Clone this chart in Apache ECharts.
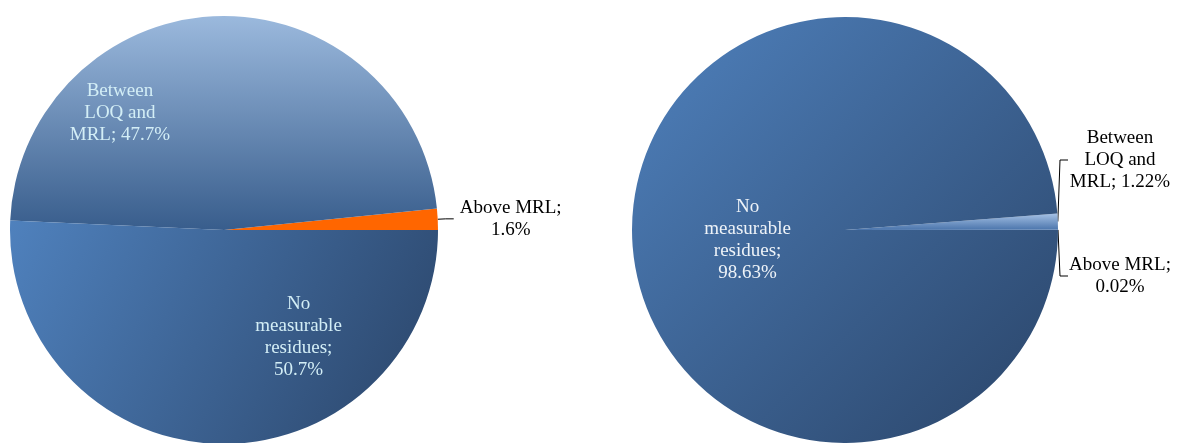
<!DOCTYPE html>
<html><head><meta charset="utf-8">
<script src="https://cdn.jsdelivr.net/npm/echarts@6/dist/echarts.min.js"></script>
<style>html,body{margin:0;padding:0;background:#fff}#c{width:1177px;height:443px}</style>
</head><body><div id="c"></div>
<script>
// ---- data ----
const categories = ['Above MRL', 'Between LOQ and MRL', 'No measurable residues'];
const labelPrefix = ['Above MRL;\n', 'Between\nLOQ and\nMRL; ', 'No\nmeasurable\nresidues;\n'];
const leftValues = [1.6, 47.7, 50.7];
const rightValues = [0.02, 1.22, 98.63];
const leftDecimals = 1;
const rightDecimals = 2;

// ---- styles ----
const FONT = '"Liberation Serif", "Times New Roman", serif';
const G = echarts.graphic.LinearGradient;
const noResidueFill = () => new G(0, 0, 1, 1, [{offset: 0, color: '#4f81bd'}, {offset: 1, color: '#2a4468'}]);
const betweenFill = () => new G(0, 0, 0, 1, [{offset: 0, color: '#9bb9dd'}, {offset: 1, color: '#385d8c'}]);
const betweenSmallFill = () => new G(0, 0, 0, 1, [{offset: 0, color: '#a6c2e6'}, {offset: 1, color: '#4a74ab'}]);

function outsideLabel() {
  return {
    show: true, position: 'outside', color: '#000', fontFamily: FONT, fontSize: 19, lineHeight: 22,
    formatter: p => p.data.text.split('\n').map(s => '{c|' + s + '}').join('\n'),
    rich: {c: {width: 104, align: 'center', fontFamily: FONT, fontSize: 19, lineHeight: 22, color: '#000'}}
  };
}
function insideLabel(color, offset) {
  return {
    show: true, position: 'inside', color: color, fontFamily: FONT, fontSize: 19, lineHeight: 22,
    align: 'center', offset: offset, formatter: p => p.data.text
  };
}

const leftData = categories.map((c, i) => ({
  name: c, value: leftValues[i], text: labelPrefix[i] + leftValues[i].toFixed(leftDecimals) + '%'
}));
const rightData = categories.map((c, i) => ({
  name: c, value: rightValues[i], text: labelPrefix[i] + rightValues[i].toFixed(rightDecimals) + '%'
}));

// left pie item styles
leftData[0].itemStyle = {color: '#ff6600'};
leftData[0].label = outsideLabel();
leftData[0].labelLine = {show: true, length: 8, length2: 8, lineStyle: {color: '#000', width: 1}};
leftData[1].itemStyle = {color: betweenFill()};
leftData[1].label = insideLabel('#d3eef6', [-101, -7]);
leftData[2].itemStyle = {color: noResidueFill()};
leftData[2].label = insideLabel('#d3eef6', [77, -3]);

// right pie item styles
rightData[0].itemStyle = {color: '#c9d7ea'};
rightData[0].label = outsideLabel();
rightData[0].labelLine = {show: true, length: 8, length2: 8, lineStyle: {color: '#000', width: 1}};
rightData[1].itemStyle = {color: betweenSmallFill()};
rightData[1].label = outsideLabel();
rightData[1].labelLine = {show: true, length: 8, length2: 8, lineStyle: {color: '#000', width: 1}};
rightData[2].itemStyle = {color: noResidueFill()};
rightData[2].label = insideLabel('#eef3f8', [12, 6]);

const rightLabelY = {0: 276, 1: 160};

const chart = echarts.init(document.getElementById('c'), null, {renderer: 'canvas'});
chart.setOption({
  animation: false,
  backgroundColor: '#fff',
  series: [
    {
      type: 'pie', center: [224, 230], radius: 214, startAngle: 0, clockwise: false,
      avoidLabelOverlap: false, silent: true,
      itemStyle: {borderWidth: 0},
      data: leftData
    },
    {
      type: 'pie', center: [845, 230], radius: 213, startAngle: 0, clockwise: false,
      avoidLabelOverlap: false, silent: true,
      itemStyle: {borderWidth: 0},
      labelLayout: function (params) {
        if (rightLabelY[params.dataIndex] === undefined) return {};
        return {x: 1068, y: rightLabelY[params.dataIndex]};
      },
      data: rightData
    }
  ]
});
</script></body></html>
